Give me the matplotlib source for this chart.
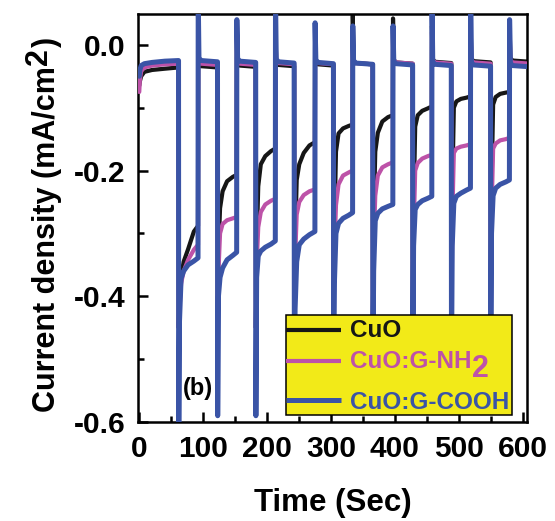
import matplotlib
matplotlib.use("Agg")
import matplotlib.pyplot as plt
from matplotlib import font_manager
from matplotlib.patches import Rectangle
from matplotlib.ticker import MultipleLocator, FormatStrFormatter

plt.rcParams["font.family"] = ["Liberation Sans", "DejaVu Sans"]
plt.rcParams["font.weight"] = "bold"
plt.rcParams["axes.unicode_minus"] = False

# ---- chopped illumination schedule (s) ----
light_on = [61.5, 122.5, 182.3, 242.5, 304.0, 365.5, 428.0, 488.5, 550.0]
light_off = [92.0, 152.5, 213.0, 275.0, 334.0, 397.0, 458.0, 518.5, 579.5]
t_end = 612.0

# sampling instants inside each phase (s after the switch)
initial_times = [0, 1, 3, 8, 20, 40]      # then held until the first light_on
on_times = [0.3, 1.5, 4, 8, 15, 24]       # then the value at light_off
off_times = [0.3, 1.5, 5]                 # then the value held until the next switch

# ---- current density (mA/cm^2) ----
cuo_initial = [-0.065, -0.058, -0.050, -0.043, -0.040, -0.038, -0.036]
cuo_on = [
    [-0.45, -0.40, -0.37, -0.345, -0.325, -0.297, -0.288],
    [-0.45, -0.33, -0.26, -0.233, -0.217, -0.210, -0.207],
    [-0.45, -0.32, -0.225, -0.190, -0.177, -0.169, -0.165],
    [-0.45, -0.31, -0.215, -0.190, -0.172, -0.160, -0.155],
    [-0.45, -0.29, -0.170, -0.141, -0.133, -0.129, -0.127],
    [-0.45, -0.28, -0.170, -0.140, -0.122, -0.115, -0.112],
    [-0.45, -0.26, -0.130, -0.112, -0.105, -0.101, -0.098],
    [-0.45, -0.24, -0.100, -0.090, -0.086, -0.084, -0.082],
    [-0.45, -0.23, -0.095, -0.083, -0.078, -0.076, -0.075],
]
cuo_off = [
    [0.020, -0.030, -0.034, -0.036],
    [0.020, -0.029, -0.033, -0.035],
    [0.020, -0.028, -0.032, -0.034],
    [0.025, -0.027, -0.031, -0.033],
    [0.047, -0.025, -0.029, -0.031],
    [0.042, -0.024, -0.028, -0.030],
    [0.030, -0.023, -0.027, -0.029],
    [0.030, -0.022, -0.026, -0.028],
    [0.030, -0.021, -0.025, -0.027],
]

nh2_initial = [-0.075, -0.055, -0.042, -0.036, -0.033, -0.031, -0.030]
nh2_on = [
    [-0.45, -0.42, -0.38, -0.360, -0.342, -0.326, -0.318],
    [-0.45, -0.36, -0.30, -0.285, -0.279, -0.276, -0.274],
    [-0.45, -0.35, -0.29, -0.266, -0.254, -0.248, -0.245],
    [-0.45, -0.34, -0.27, -0.250, -0.239, -0.233, -0.230],
    [-0.45, -0.33, -0.255, -0.222, -0.208, -0.203, -0.200],
    [-0.45, -0.32, -0.24, -0.208, -0.195, -0.190, -0.187],
    [-0.45, -0.30, -0.20, -0.188, -0.181, -0.177, -0.175],
    [-0.45, -0.28, -0.172, -0.165, -0.162, -0.160, -0.158],
    [-0.45, -0.27, -0.165, -0.157, -0.152, -0.150, -0.148],
]
nh2_off = [
    [0.010, -0.026, -0.030, -0.032],
    [0.010, -0.026, -0.030, -0.032],
    [0.010, -0.025, -0.029, -0.031],
    [0.015, -0.025, -0.029, -0.031],
    [0.020, -0.025, -0.029, -0.031],
    [0.020, -0.024, -0.028, -0.030],
    [0.020, -0.024, -0.028, -0.030],
    [0.020, -0.024, -0.028, -0.030],
    [0.020, -0.024, -0.028, -0.030],
]

cooh_initial = [-0.050, -0.040, -0.033, -0.030, -0.028, -0.026, -0.025]
cooh_on = [
    [-0.65, -0.44, -0.372, -0.360, -0.350, -0.344, -0.339],
    [-0.59, -0.40, -0.370, -0.355, -0.342, -0.335, -0.330],
    [-0.59, -0.37, -0.336, -0.328, -0.322, -0.317, -0.312],
    [-0.52, -0.42, -0.345, -0.318, -0.309, -0.302, -0.297],
    [-0.52, -0.38, -0.300, -0.284, -0.276, -0.271, -0.267],
    [-0.52, -0.36, -0.280, -0.268, -0.261, -0.257, -0.254],
    [-0.52, -0.32, -0.262, -0.254, -0.248, -0.244, -0.241],
    [-0.52, -0.32, -0.252, -0.241, -0.236, -0.231, -0.228],
    [-0.52, -0.30, -0.240, -0.228, -0.222, -0.218, -0.215],
]
cooh_off = [
    [0.080, -0.021, -0.025, -0.027],
    [0.040, -0.022, -0.026, -0.028],
    [0.080, -0.023, -0.027, -0.029],
    [0.035, -0.024, -0.028, -0.030],
    [0.030, -0.025, -0.029, -0.031],
    [0.030, -0.026, -0.030, -0.032],
    [0.080, -0.027, -0.031, -0.033],
    [0.080, -0.028, -0.032, -0.034],
    [0.040, -0.029, -0.033, -0.035],
]

# legend entries: (text, big subscript)
labels = [("CuO", ""), ("CuO:G-NH", "2"), ("CuO:G-COOH", "")]
colors = ["#161616", "#BD52A8", "#3A54A6"]
widths = [3.0, 3.0, 3.6]


def build_trace(initial, on_rows, off_rows):
    t = list(initial_times) + [light_on[0]]
    v = list(initial)
    for k, (ton, toff) in enumerate(zip(light_on, light_off)):
        t += [ton + d for d in on_times] + [toff]
        v += on_rows[k]
        nxt = light_on[k + 1] if k + 1 < len(light_on) else t_end
        t += [toff + d for d in off_times] + [nxt]
        v += off_rows[k]
    return t, v


series = [
    (cuo_initial, cuo_on, cuo_off),
    (nh2_initial, nh2_on, nh2_off),
    (cooh_initial, cooh_on, cooh_off),
]

W, H = 555, 521
fig = plt.figure(figsize=(W / 100, H / 100), dpi=100)
ax = fig.add_axes([0.2486, 0.19, 0.7009, 0.7831])

for (ini, on_rows, off_rows), c, lw, z in zip(series, colors, widths, [2, 3, 4]):
    t, v = build_trace(ini, on_rows, off_rows)
    ax.plot(t, v, color=c, lw=lw, solid_capstyle="round",
            solid_joinstyle="round", zorder=z)

ax.set_xlim(-2, 607)
ax.set_ylim(-0.6, 0.049)
ax.xaxis.set_major_locator(MultipleLocator(100))
ax.xaxis.set_minor_locator(MultipleLocator(50))
ax.yaxis.set_major_locator(MultipleLocator(0.2))
ax.yaxis.set_minor_locator(MultipleLocator(0.1))
ax.yaxis.set_major_formatter(FormatStrFormatter("%.1f"))
ax.tick_params(which="both", direction="in", width=1.8, top=False, right=False)
ax.tick_params(which="major", length=7, labelsize=21.5, pad=9)
ax.tick_params(which="minor", length=4)
for s in ax.spines.values():
    s.set_linewidth(1.8)

ax.set_xlabel("Time (Sec)", fontsize=22.5, fontweight="bold", labelpad=18)

renderer = fig.canvas.get_renderer()

# y axis title, condensed face when available, with a full-size raised "2"
installed = {f.name for f in font_manager.fontManager.ttflist}
yl_family = ["Liberation Sans Narrow", "Liberation Sans"] \
    if "Liberation Sans Narrow" in installed else ["Liberation Sans"]
yl_kw = dict(rotation=90, rotation_mode="anchor", ha="left", va="baseline",
             fontweight="bold", family=yl_family)
base_x, start_y, body_len = 55, H - 412, 347
body = fig.text(base_x / W, start_y / H, "Current density (mA/cm",
                fontsize=24, **yl_kw)
bb = body.get_window_extent(renderer)
body.set_fontsize(24 * body_len / bb.height)
bb = body.get_window_extent(renderer)
fs = body.get_fontsize()
sup = fig.text((base_x - 0.5 * fs * 100 / 72 * 0.52) / W, (bb.y1 + 1) / H, "2",
               fontsize=fs, **yl_kw)
bb2 = sup.get_window_extent(renderer)
fig.text(base_x / W, (bb2.y1 + 1) / H, ")", fontsize=fs, **yl_kw)

# legend panel
lx0, lx1, ly0, ly1 = 0.380, 0.961, 0.017, 0.262
ax.add_patch(Rectangle((lx0, ly0), lx1 - lx0, ly1 - ly0, transform=ax.transAxes,
                       facecolor="#F2EA18", edgecolor="black", lw=1.1, zorder=10))
handle_y = [0.2255, 0.1495, 0.054]
text_y = [0.209, 0.1315, 0.031]
to_axes = ax.transAxes.inverted()
for (lab, sub), c, lw, hy, ty in zip(labels, colors, widths, handle_y, text_y):
    ax.plot([lx0, 0.522], [hy, hy], transform=ax.transAxes, color=c, lw=lw,
            solid_capstyle="butt", zorder=11, clip_on=False)
    txt = ax.text(0.545, ty, lab, transform=ax.transAxes, color=c, fontsize=17.5,
                  fontweight="bold", va="baseline", ha="left", zorder=12)
    if sub:
        ext = txt.get_window_extent(renderer)
        sx = to_axes.transform((ext.x1 + 1, 0))[0]
        ax.text(sx, ty - 0.02, sub, transform=ax.transAxes, color=c,
                fontsize=22, fontweight="bold", va="baseline", ha="left",
                zorder=12)

ax.text(0.154, 0.081, "(b)", transform=ax.transAxes, fontsize=17,
        fontweight="bold", ha="center", va="center", zorder=12)

fig.savefig("out.png", dpi=100)
